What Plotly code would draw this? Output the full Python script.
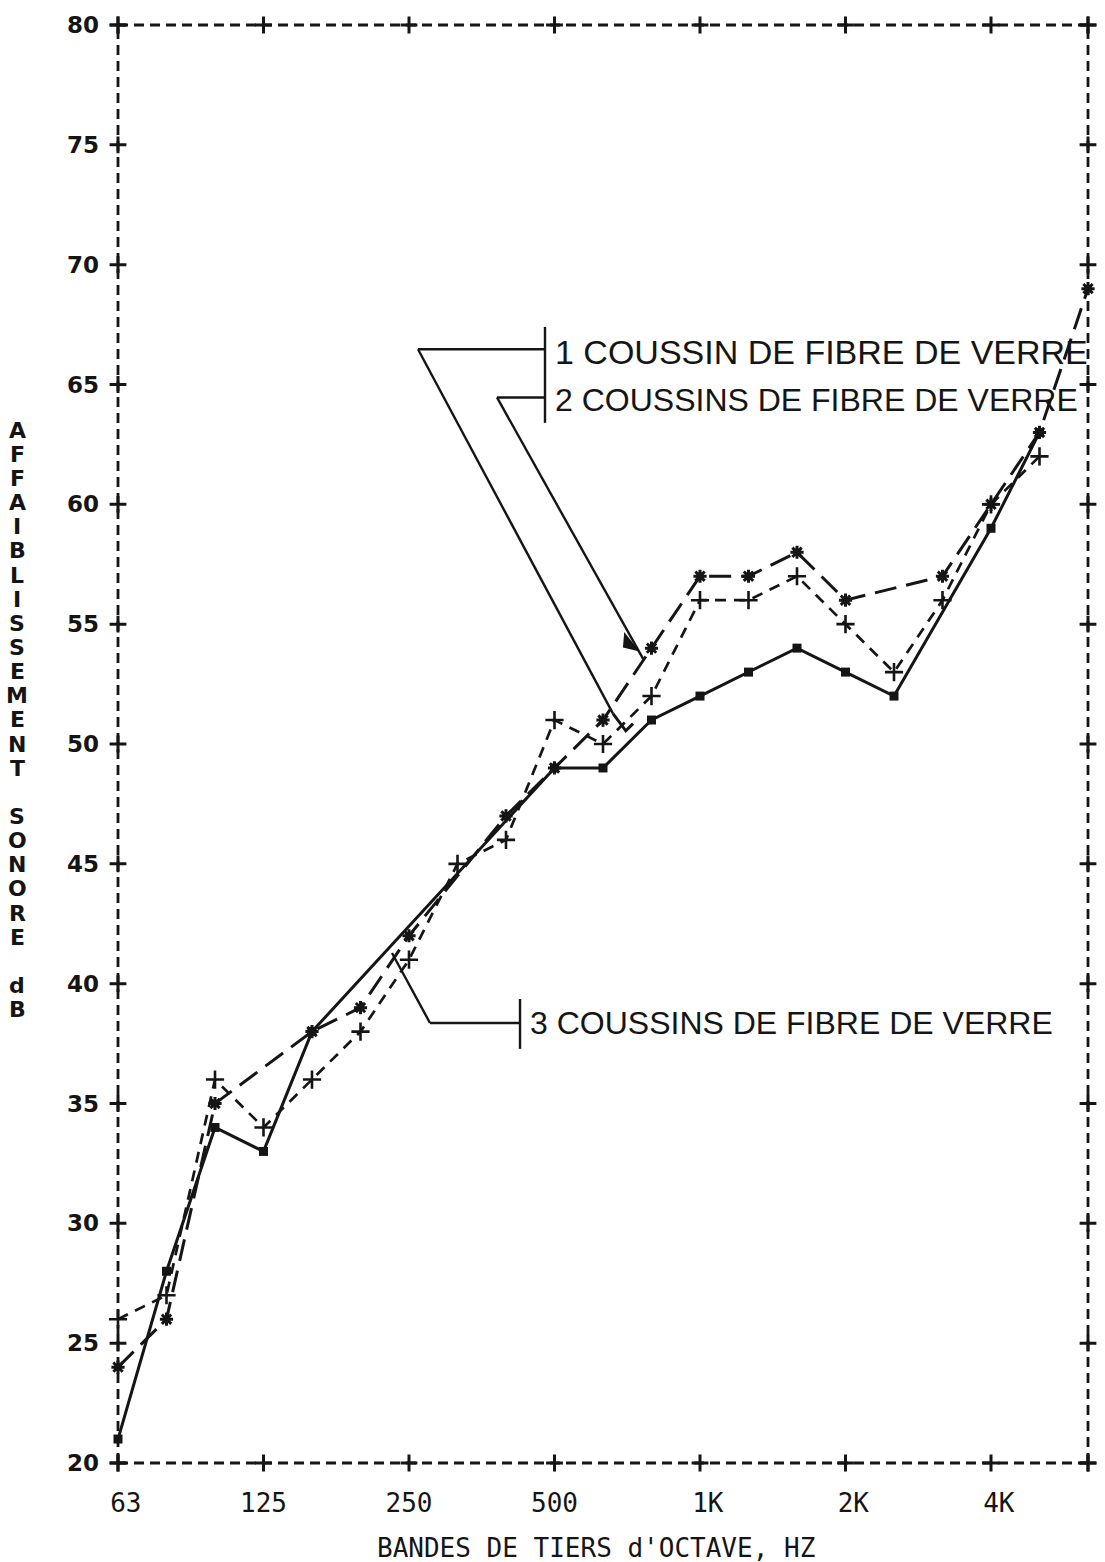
import plotly.graph_objects as go

# Third-octave band centres (Hz) and measured sound reduction (dB)
bands = ["63", "80", "100", "125", "160", "200", "250", "315", "400", "500",
         "630", "800", "1K", "1.25K", "1.6K", "2K", "2.5K", "3.15K", "4K", "5K", "6.3K"]
one_pad = [26, 27, 36, 34, 36, 38, 41, 45, 46, 51,
           50, 52, 56, 56, 57, 55, 53, 56, 60, 62, None]
two_pads = [24, 26, 35, None, 38, 39, 42, None, 47, 49,
            51, 54, 57, 57, 58, 56, None, 57, 60, 63, 69]
three_pads = [21, 28, 34, 33, 38, None, None, None, None, 49,
              49, 51, 52, 53, 54, 53, 52, None, 59, 63, None]

octave_labels = ["63", "125", "250", "500", "1K", "2K", "4K"]
y_ticks = [20, 25, 30, 35, 40, 45, 50, 55, 60, 65, 70, 75, 80]

x_idx = list(range(len(bands)))
octave_idx = [bands.index(b) for b in octave_labels]
x_max = len(bands) - 1
y_min, y_max = y_ticks[0], y_ticks[-1]

INK = "#151515"
fig = go.Figure()

# Dashed plotter frame
frame_dash = "10px,6px"
for x0, y0, x1, y1 in [(0, 0, 1, 0), (0, 1, 1, 1), (0, 0, 0, 1), (1, 0, 1, 1)]:
    fig.add_shape(type="line", xref="paper", yref="paper", x0=x0, y0=y0, x1=x1, y1=y1,
                  line=dict(color=INK, width=2.8, dash=frame_dash), layer="below")

# "+" tick marks on all four sides of the frame
tx = octave_idx + [x_max]
tick_x = tx + tx + [0] * len(y_ticks) + [x_max] * len(y_ticks)
tick_y = [y_min] * len(tx) + [y_max] * len(tx) + y_ticks + y_ticks
fig.add_trace(go.Scatter(
    x=tick_x, y=tick_y, mode="markers", cliponaxis=False, hoverinfo="skip",
    marker=dict(symbol="cross-thin", size=12, line=dict(color=INK, width=3)),
    showlegend=False))

# Measured curves
fig.add_trace(go.Scatter(
    x=x_idx, y=three_pads, mode="lines+markers", connectgaps=True, cliponaxis=False,
    line=dict(color=INK, width=3),
    marker=dict(symbol="square", size=9, color=INK),
    name="3 coussins", showlegend=False))
fig.add_trace(go.Scatter(
    x=x_idx, y=two_pads, mode="lines+markers", connectgaps=True, cliponaxis=False,
    line=dict(color=INK, width=3, dash="22px,10px"),
    marker=dict(symbol="asterisk-open", size=11, line=dict(color=INK, width=3)),
    name="2 coussins", showlegend=False))
fig.add_trace(go.Scatter(
    x=x_idx, y=one_pad, mode="lines+markers", connectgaps=True, cliponaxis=False,
    line=dict(color=INK, width=2.7, dash="11px,8px"),
    marker=dict(symbol="cross-thin-open", size=13, line=dict(color=INK, width=2.6)),
    name="1 coussin", showlegend=False))

# Hand-drawn callouts
callout = dict(color=INK, width=2.4)
lines = [
    # 1 coussin
    (6.186, 66.47, 8.804, 66.47), (6.186, 66.47, 10.206, 51.27),
    # 2 coussins
    (7.814, 64.46, 8.804, 64.46), (7.814, 64.46, 10.825, 53.56),
    # bar for labels 1 and 2
    (8.804, 67.4, 8.804, 63.4),
    # 3 coussins
    (8.289, 38.36, 6.433, 38.36), (6.433, 38.36, 5.649, 41.28),
    (8.289, 39.36, 8.289, 37.28),
]
for x0, y0, x1, y1 in lines:
    fig.add_shape(type="line", x0=x0, y0=y0, x1=x1, y1=y1, line=callout)
fig.add_shape(type="path", path="M 10.206 51.27 L 10.47 50.55 L 10.62 50.85",
              line=dict(color=INK, width=3))
fig.add_shape(type="path", path="M 10.454 54.56 L 10.701 53.93 L 10.433 54.06 Z",
              line=dict(color=INK, width=2), fillcolor=INK)

hand = dict(family="Liberation Sans", size=33, color=INK)
for text, x, y, size in [
    ("1 COUSSIN DE FIBRE DE VERRE", 8.97, 66.34, 34),
    ("2 COUSSINS DE FIBRE DE VERRE", 8.97, 64.34, 32),
    ("3 COUSSINS DE FIBRE DE VERRE", 8.454, 38.36, 32),
]:
    fig.add_annotation(x=x, y=y, text=text, showarrow=False, xanchor="left",
                       yanchor="middle", font=dict(hand, size=size))

# Stacked vertical axis title
y_title = "AFFAIBLISSEMENT SONORE dB"
plot_h = 1441.0
for i, ch in enumerate(y_title):
    if ch == " ":
        continue
    py = 428 + 24.2 * i
    fig.add_annotation(xref="paper", yref="paper", x=(17 - 118) / 970.0,
                       y=(1463 - py) / plot_h, text=ch, showarrow=False,
                       xanchor="center", yanchor="middle",
                       font=dict(family="DejaVu Sans", size=22, color=INK, weight="bold"))

# Horizontal axis title
fig.add_annotation(xref="paper", yref="paper", x=(596 - 118) / 970.0,
                   y=(1463 - 1548) / plot_h, text="BANDES DE TIERS d'OCTAVE, HZ",
                   showarrow=False, xanchor="center", yanchor="middle",
                   font=dict(family="DejaVu Sans Mono", size=26, color=INK))

fig.update_layout(
    width=1105, height=1562,
    margin=dict(l=118, r=17, t=22, b=99, pad=0),
    paper_bgcolor="white", plot_bgcolor="white",
    xaxis=dict(range=[0, x_max], tickvals=octave_idx,
               ticktext=[("\u00a0" + t) if len(t) == 2 else t for t in octave_labels],
               tickfont=dict(family="DejaVu Sans Mono", size=26, color=INK),
               ticks="", ticklabelstandoff=22,
               showline=False, showgrid=False, zeroline=False),
    yaxis=dict(range=[y_min, y_max], tickvals=y_ticks,
               tickfont=dict(family="DejaVu Sans", size=23, color=INK, weight="bold"),
               ticks="", ticklabelstandoff=18,
               showline=False, showgrid=False, zeroline=False),
)

fig.write_html("out.html")
